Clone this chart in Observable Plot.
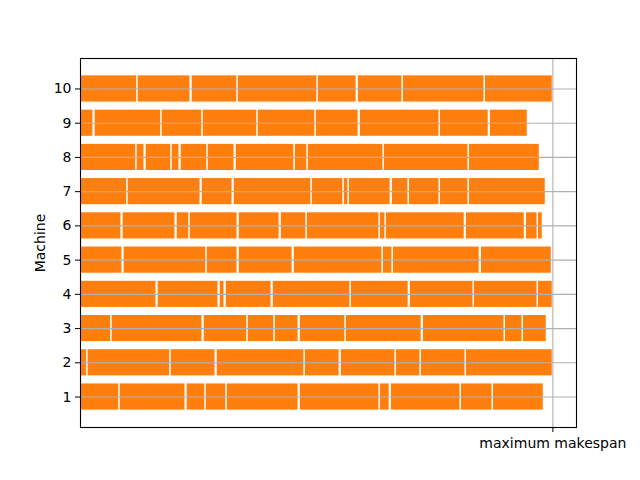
<!DOCTYPE html>
<html>
<head>
<meta charset="utf-8">
<script src="https://cdn.jsdelivr.net/npm/d3@7"></script>
<script src="https://cdn.jsdelivr.net/npm/@observablehq/plot@0.6"></script>
<style>
  html, body { margin: 0; padding: 0; background: #fff; }
</style>
</head>
<body>
<div id="chart"></div>
<script>
const machines = [1, 2, 3, 4, 5, 6, 7, 8, 9, 10];
const makespan = 472;
const xTickLabels = ["maximum makespan"];
const yTicks = [1, 2, 3, 4, 5, 6, 7, 8, 9, 10];

const m1 = [[0,39],[39,105],[106,125],[125,146],[146,218],[219,299],[299,309],[310,380],[380,412],[412,463]];
const m2 = [[0,7],[7,90],[90,135],[136,224],[224,259],[260,315],[315,340],[340,385],[385,472]];
const m3 = [[0,31],[31,122],[123,167],[167,194],[194,218],[219,265],[265,341],[342,424],[424,442],[442,466]];
const m4 = [[0,76],[77,138],[139,144],[145,191],[192,270],[270,328],[329,393],[393,457],[457,472]];
const m5 = [[0,42],[43,126],[126,157],[158,212],[213,302],[302,312],[312,399],[400,471]];
const m6 = [[0,41],[42,95],[96,109],[109,157],[158,199],[200,226],[226,299],[299,305],[305,384],[385,444],[445,457],[457,462]];
const m7 = [[0,47],[47,120],[121,152],[153,231],[231,263],[263,268],[268,310],[311,328],[328,359],[359,388],[388,465]];
const m8 = [[0,56],[56,64],[65,91],[91,99],[100,127],[127,154],[155,214],[214,227],[227,303],[303,388],[388,459]];
const m9 = [[0,13],[14,81],[81,122],[122,177],[177,235],[235,278],[279,359],[359,408],[409,447]];
const m10 = [[0,57],[57,110],[111,157],[157,237],[237,276],[277,322],[322,404],[404,472]];

const schedule = [m1, m2, m3, m4, m5, m6, m7, m8, m9, m10];
const tasks = [];
schedule.forEach((segs, i) => segs.forEach(([s, e]) => tasks.push({machine: machines[i], start: s, end: e})));

const chart = Plot.plot({
  width: 640,
  height: 480,
  marginLeft: 80,
  marginRight: 64,
  marginTop: 58,
  marginBottom: 53,
  style: {background: "#fff", fontFamily: "DejaVu Sans", fontSize: "14px", color: "#000"},
  x: {domain: [0, makespan * 1.05]},
  y: {domain: [0.11, 10.89]},
  marks: [
    Plot.rect(tasks, {
      x1: "start", x2: "end",
      y1: d => d.machine - 0.4, y2: d => d.machine + 0.4,
      fill: "#ff7f0e", stroke: "#fff", strokeWidth: 1.2
    }),
    Plot.ruleY(yTicks, {stroke: "#b0b0b0", strokeWidth: 1.1}),
    Plot.ruleX([makespan], {stroke: "#b0b0b0", strokeWidth: 1.1}),
    Plot.frame({stroke: "#000", strokeWidth: 1.1}),
    Plot.axisY({ticks: yTicks, tickSize: 5, tickPadding: 4, label: null, fontSize: 14}),
    Plot.axisX({ticks: [makespan], tickFormat: () => xTickLabels[0], tickSize: 5, tickPadding: 6, label: null, fontSize: 14}),
    Plot.text(["Machine"], {frameAnchor: "left", textAnchor: "middle", dx: -40, rotate: -90, fontSize: 14, fill: "#000"})
  ]
});
document.getElementById("chart").appendChild(chart);
</script>
</body>
</html>
